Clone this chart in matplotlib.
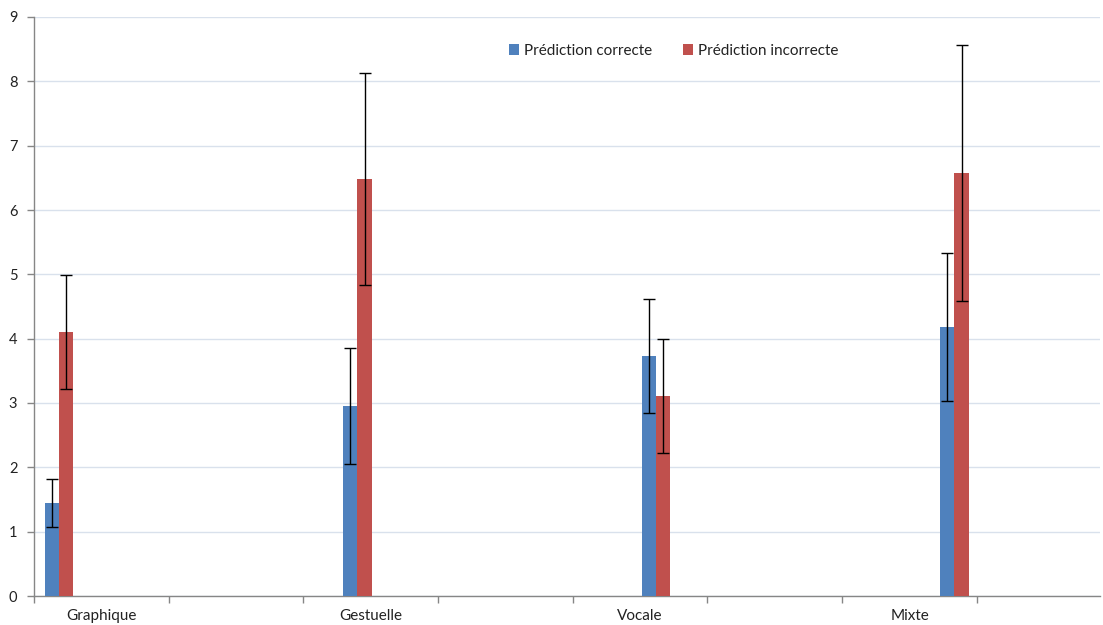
import matplotlib
matplotlib.use("Agg")
import matplotlib.pyplot as plt
import numpy as np

categories = ["Graphique", "Gestuelle", "Vocale", "Mixte"]
series_names = ["Prédiction correcte", "Prédiction incorrecte"]
correct = [1.45, 2.95, 3.73, 4.18]
correct_err = [0.37, 0.90, 0.88, 1.15]
incorrect = [4.10, 6.48, 3.11, 6.58]
incorrect_err = [0.89, 1.65, 0.88, 1.99]
yticks = list(range(0, 10))

plt.rcParams['font.family'] = ['Lato', 'DejaVu Sans']

W, H = 1103, 625
fig = plt.figure(figsize=(W / 100, H / 100), dpi=100)
ax = fig.add_axes([34 / W, 29 / H, 1066 / W, 579 / H])

blue = "#4F81BD"
red = "#C0504D"
n = len(categories)
centers = 0.185 + 2.216 * np.arange(n)
bw = 0.106
ax.bar(centers - bw / 2, correct, bw, color=blue, label=series_names[0], zorder=3,
       yerr=correct_err, error_kw=dict(ecolor="black", elinewidth=1, capsize=4, capthick=1, zorder=4))
ax.bar(centers + bw / 2, incorrect, bw, color=red, label=series_names[1], zorder=3,
       yerr=incorrect_err, error_kw=dict(ecolor="black", elinewidth=1, capsize=4, capthick=1, zorder=4))

ax.set_ylim(0, 9)
ax.set_xlim(0, 7.914)
ax.set_yticks(yticks)
ax.set_yticklabels([str(v) for v in yticks])
ax.yaxis.grid(True, color="#D9E1EC", linewidth=1, zorder=0)
ax.set_axisbelow(True)

# slot boundaries as major ticks, category labels as minor ticks in every other slot
ax.set_xticks(np.arange(0, 8))
ax.set_xticklabels([])
ax.set_xticks(np.arange(n) * 2 + 0.5, minor=True)
ax.set_xticklabels(categories, minor=True)
ax.tick_params(axis="x", which="major", length=5, color="#868686", width=1)
ax.tick_params(axis="x", which="minor", length=0, pad=9.5, labelsize=11, labelcolor="#222222")
ax.tick_params(axis="y", length=5, color="#868686", width=1, pad=7, labelsize=10.5, labelcolor="#222222")

for s in ["top", "right"]:
    ax.spines[s].set_visible(False)
for s in ["left", "bottom"]:
    ax.spines[s].set_color("#868686")
    ax.spines[s].set_linewidth(1)

ax.legend(loc="center", bbox_to_anchor=(0.600, 0.942), ncol=2, frameon=False,
          handlelength=0.7, handleheight=0.7, handletextpad=0.3, columnspacing=2.0,
          fontsize=11, labelcolor="#222222")

fig.savefig("out.png", dpi=100)
